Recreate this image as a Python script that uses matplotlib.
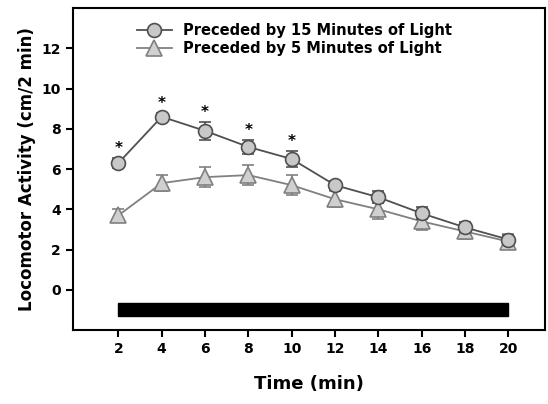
import matplotlib.pyplot as plt
from matplotlib.lines import Line2D

time = [2, 4, 6, 8, 10, 12, 14, 16, 18, 20]
light15 = [6.3, 8.6, 7.9, 7.1, 6.5, 5.2, 4.6, 3.8, 3.1, 2.5]
light15_err = [0.25, 0.2, 0.45, 0.35, 0.4, 0.2, 0.3, 0.3, 0.25, 0.2]
light5 = [3.7, 5.3, 5.6, 5.7, 5.2, 4.5, 4.0, 3.4, 2.9, 2.4]
light5_err = [0.3, 0.4, 0.5, 0.5, 0.5, 0.4, 0.5, 0.45, 0.35, 0.35]
star_times = [2, 4, 6, 8, 10]

fig = plt.figure(figsize=(5.48, 4.04), dpi=100)
ax = fig.add_axes([0.133, 0.183, 0.862, 0.797])

style15 = dict(color='#505050', lw=1.3, marker='o', ms=10, mfc='#c8c8c8', mec='#505050', mew=1.2)
style5 = dict(color='#808080', lw=1.3, marker='^', ms=11, mfc='#d0d0d0', mec='#808080', mew=1.2)

ax.errorbar(time, light15, yerr=light15_err, capsize=4, capthick=1.3, zorder=3, **style15)
ax.errorbar(time, light5, yerr=light5_err, capsize=4, capthick=1.3, zorder=2, **style5)

for t in star_times:
    i = time.index(t)
    ax.text(t, light15[i] + light15_err[i] + 0.1, '*', ha='center', va='bottom',
            fontsize=11, fontweight='bold')

ax.add_patch(plt.Rectangle((2, -1.3), 18, 0.65, color='black'))

ax.set_xlim(-0.1, 21.7)
ax.set_ylim(-2, 14)
ax.set_xticks(time)
ax.set_yticks([0, 2, 4, 6, 8, 10, 12])
ax.tick_params(width=1.5, length=5, labelsize=10)
for lab in ax.get_xticklabels() + ax.get_yticklabels():
    lab.set_fontweight('bold')
for s in ax.spines.values():
    s.set_linewidth(1.5)
ax.set_xlabel('Time (min)', fontsize=13, fontweight='bold', labelpad=14)
ax.set_ylabel('Locomotor Activity (cm/2 min)', fontsize=12, fontweight='bold')
handles = [Line2D([], [], **style15), Line2D([], [], **style5)]
ax.legend(handles, ['Preceded by 15 Minutes of Light', 'Preceded by 5 Minutes of Light'],
          loc='upper left', bbox_to_anchor=(0.11, 0.99), frameon=False,
          prop={'weight': 'bold', 'size': 10.5}, handlelength=2.4, borderpad=0.3, labelspacing=0.2)

fig.savefig('out.png')
